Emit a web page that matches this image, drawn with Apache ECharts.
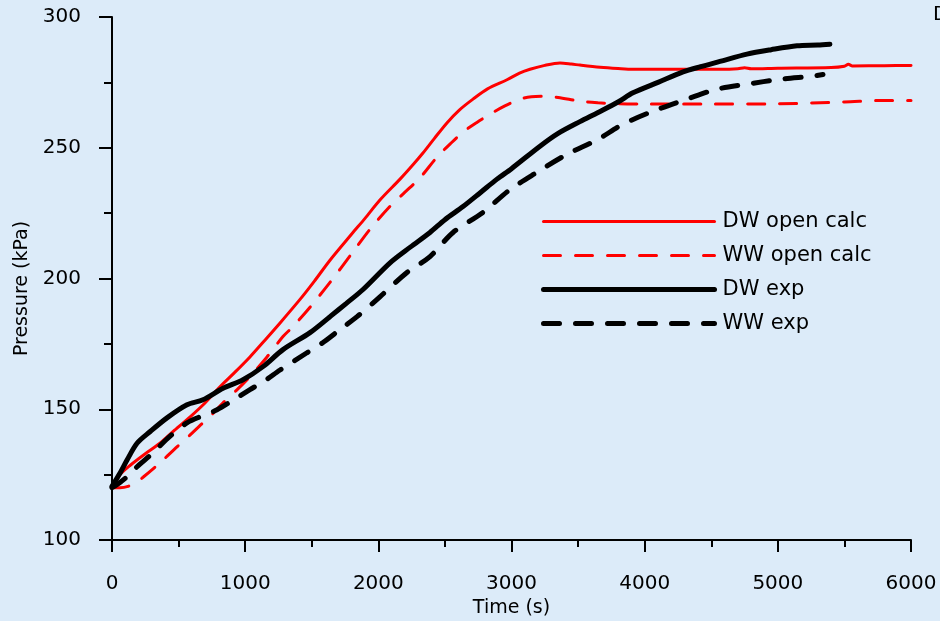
<!DOCTYPE html>
<html>
<head>
<meta charset="utf-8">
<script src="https://cdn.jsdelivr.net/npm/echarts@6/dist/echarts.min.js"></script>
<style>
  html, body { margin: 0; padding: 0; background: #dcebf9; }
  #chart { width: 940px; height: 621px; }
</style>
</head>
<body>
<div id="chart"></div>
<script>
  // DW open calc
  var tDwCalc = [0, 20, 60, 135, 250, 360, 470, 585, 700, 811, 920, 1036, 1150, 1262, 1412, 1520, 1637, 1800, 1900, 2012, 2163, 2260, 2335, 2420, 2515, 2610, 2711, 2820, 2966, 3060, 3139, 3250, 3364, 3450, 3514, 3665, 3800, 3912, 4200, 4565, 4700, 4750, 4800, 5000, 5400, 5500, 5530, 5560, 5800, 6000];
  var pDwCalc = [120, 121.5, 125, 128.5, 133, 137, 142, 147, 152.5, 158.6, 164, 170, 176.5, 183, 192, 199, 207, 217, 223, 230, 238, 243.5, 248, 253.5, 259.5, 264.5, 268.6, 272.5, 276, 278.5, 280, 281.5, 282.4, 282, 281.6, 280.8, 280.3, 280, 280, 280, 280.2, 280.6, 280.2, 280.4, 280.7, 281.2, 281.9, 281.3, 281.4, 281.5];
  // WW open calc
  var tWwCalc = [0, 60, 120, 180, 233, 360, 488, 583, 683, 760, 834, 940, 1036, 1164, 1284, 1359, 1487, 1637, 1800, 1937, 2088, 2200, 2313, 2440, 2540, 2636, 2740, 2838, 2950, 3064, 3150, 3236, 3350, 3514, 3650, 3800, 4000, 4500, 5000, 5500, 5800, 6000];
  var pWwCalc = [120, 120, 120.5, 122, 124, 129.5, 135.6, 140, 144.8, 148.5, 152.5, 157.5, 162.5, 170, 177.8, 181.6, 189, 198.5, 209.5, 218.8, 227.6, 233, 238.5, 246.4, 251.5, 256, 259.7, 262.8, 266, 268.6, 269.5, 269.7, 269.2, 267.8, 267.2, 266.8, 266.7, 266.7, 266.8, 267.5, 268.1, 268.1];
  // DW exp
  var tDwExp = [0, 30, 70, 113, 188, 285, 413, 563, 683, 834, 984, 1134, 1284, 1487, 1637, 1760, 1885, 2088, 2240, 2388, 2500, 2636, 2770, 2891, 3000, 3214, 3350, 3514, 3650, 3800, 3912, 4100, 4288, 4420, 4565, 4768, 4950, 5144, 5300, 5391];
  var pDwExp = [120.5, 123, 126.5, 130.6, 137, 141.4, 146.7, 151.7, 153.6, 158, 161.3, 166.3, 172.8, 179.3, 185.4, 190.5, 195.8, 206, 212, 217.6, 222.5, 227.5, 233, 238, 242, 250.6, 255.5, 260, 263.5, 267.5, 271, 275, 279, 281, 283, 285.8, 287.5, 289, 289.3, 289.6];
  // WW exp
  var tWwExp = [0, 60, 120, 188, 300, 420, 563, 680, 789, 910, 1036, 1150, 1262, 1464, 1584, 1700, 1840, 2012, 2215, 2388, 2561, 2786, 2989, 3191, 3417, 3642, 3837, 4063, 4318, 4543, 4768, 5016, 5264, 5339];
  var pWwExp = [120, 122, 124.5, 128, 133, 139, 144.8, 147.5, 149.8, 153.5, 157.5, 161, 165, 171.6, 175.5, 180, 185.4, 193, 202.3, 208.4, 217.6, 225.3, 234, 240.6, 247.5, 253, 259, 264, 268.6, 272.4, 274.3, 276.2, 277.4, 278];

  function pairs(t, p) {
    return t.map(function (v, i) { return [v, p[i]]; });
  }

  var font = 'DejaVu Sans';
  var myChart = echarts.init(document.getElementById('chart'));
  myChart.setOption({
    animation: false,
    backgroundColor: '#dcebf9',
    grid: { left: 112, right: 29, top: 17, bottom: 81, outerBoundsMode: 'none' },
    legend: {
      orient: 'vertical',
      left: 536,
      top: 206,
      itemWidth: 171,
      itemHeight: 14,
      itemGap: 13,
      itemStyle: { opacity: 0 },
      lineStyle: { width: 'inherit' },
      textStyle: { color: '#000', fontFamily: font, fontSize: 21, padding: [0, 0, 0, 3] },
      data: ['DW open calc', 'WW open calc', 'DW exp', 'WW exp']
    },
    xAxis: {
      type: 'value',
      min: 0,
      max: 6000,
      interval: 1000,
      name: 'Time (s)',
      nameLocation: 'middle',
      nameGap: 59,
      nameTextStyle: { color: '#000', fontFamily: font, fontSize: 19 },
      axisLine: { lineStyle: { color: '#000', width: 2 } },
      axisTick: { length: 12, lineStyle: { color: '#000', width: 2 } },
      minorTick: { show: true, splitNumber: 2, length: 7, lineStyle: { color: '#000', width: 2 } },
      splitLine: { show: false },
      axisLabel: { color: '#000', fontFamily: font, fontSize: 20, margin: 34, formatter: function (v) { return String(v); } }
    },
    yAxis: {
      type: 'value',
      min: 100,
      max: 300,
      interval: 50,
      name: 'Pressure (kPa)',
      nameLocation: 'middle',
      nameGap: 80,
      nameTextStyle: { color: '#000', fontFamily: font, fontSize: 19, padding: [0, 20, 0, 0] },
      axisLine: { show: true, lineStyle: { color: '#000', width: 2 } },
      axisTick: { show: true, length: 13, lineStyle: { color: '#000', width: 2 } },
      minorTick: { show: true, splitNumber: 2, length: 8, lineStyle: { color: '#000', width: 2 } },
      splitLine: { show: false },
      axisLabel: { color: '#000', fontFamily: font, fontSize: 20, margin: 31 }
    },
    graphic: [{
      type: 'text',
      left: 933,
      top: 5,
      style: { text: 'D', fill: '#000', font: '20px DejaVu Sans' }
    }],
    series: [{
      name: 'DW open calc',
      type: 'line',
      symbol: 'none',
      smooth: 0.3,
      lineStyle: { color: '#ff0000', width: 3, cap: 'round' },
      itemStyle: { color: '#ff0000' },
      data: pairs(tDwCalc, pDwCalc)
    }, {
      name: 'WW open calc',
      type: 'line',
      symbol: 'none',
      smooth: 0.3,
      lineStyle: { color: '#ff0000', width: 3, type: [17, 15], cap: 'round' },
      itemStyle: { color: '#ff0000' },
      data: pairs(tWwCalc, pWwCalc)
    }, {
      name: 'DW exp',
      type: 'line',
      symbol: 'none',
      smooth: 0.3,
      lineStyle: { color: '#000', width: 5, cap: 'round' },
      itemStyle: { color: '#000' },
      data: pairs(tDwExp, pDwExp)
    }, {
      name: 'WW exp',
      type: 'line',
      symbol: 'none',
      smooth: 0.3,
      lineStyle: { color: '#000', width: 5, type: [16, 16], cap: 'round' },
      itemStyle: { color: '#000' },
      data: pairs(tWwExp, pWwExp)
    }]
  });
</script>
</body>
</html>
